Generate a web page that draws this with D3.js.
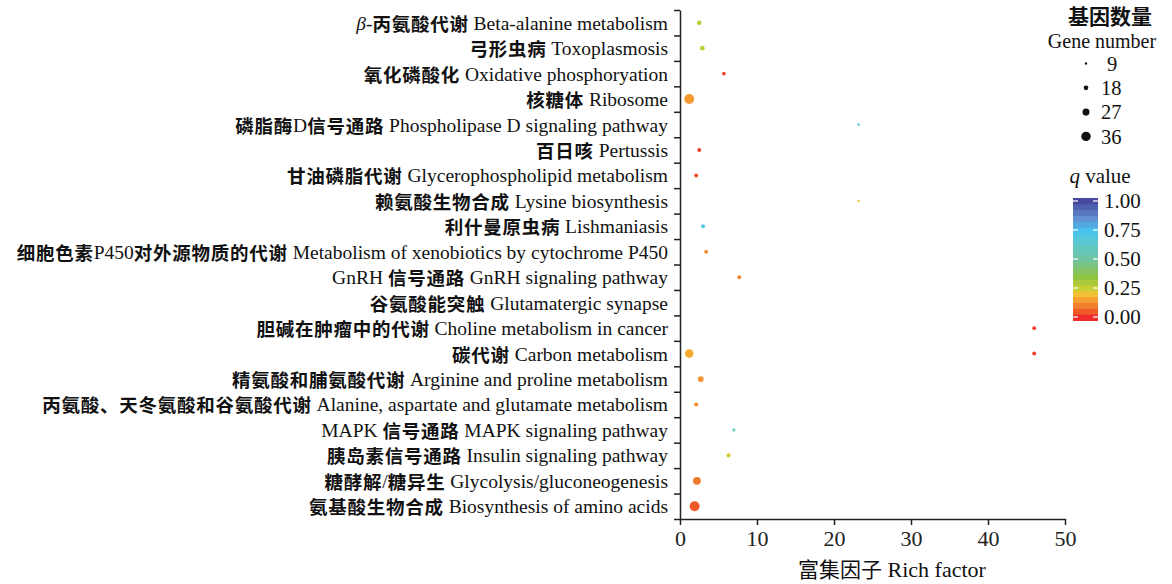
<!DOCTYPE html>
<html>
<head>
<meta charset="utf-8">
<script src="https://cdn.jsdelivr.net/npm/d3@7"></script>
<style>
  body { margin: 0; background: #fff; }
  svg { display: block; }
</style>
</head>
<body>
<div id="plot"></div>
<script>
// pathway rows, top to bottom
const categoriesCn = [
  "β-丙氨酸代谢", "弓形虫病", "氧化磷酸化", "核糖体", "磷脂酶D信号通路",
  "百日咳", "甘油磷脂代谢", "赖氨酸生物合成", "利什曼原虫病", "细胞色素P450对外源物质的代谢",
  "GnRH 信号通路", "谷氨酸能突触", "胆碱在肿瘤中的代谢", "碳代谢", "精氨酸和脯氨酸代谢",
  "丙氨酸、天冬氨酸和谷氨酸代谢", "MAPK 信号通路", "胰岛素信号通路", "糖酵解/糖异生", "氨基酸生物合成"
];
const categoriesEn = [
  "Beta-alanine metabolism", "Toxoplasmosis", "Oxidative phosphoryation", "Ribosome",
  "Phospholipase D signaling pathway", "Pertussis", "Glycerophospholipid metabolism",
  "Lysine biosynthesis", "Lishmaniasis", "Metabolism of xenobiotics by cytochrome P450",
  "GnRH signaling pathway", "Glutamatergic synapse", "Choline metabolism in cancer",
  "Carbon metabolism", "Arginine and proline metabolism",
  "Alanine, aspartate and glutamate metabolism", "MAPK signaling pathway",
  "Insulin signaling pathway", "Glycolysis/gluconeogenesis", "Biosynthesis of amino acids"
];

// points
const pointCategory = [
  "Beta-alanine metabolism", "Toxoplasmosis", "Oxidative phosphoryation", "Ribosome",
  "Phospholipase D signaling pathway", "Pertussis", "Glycerophospholipid metabolism",
  "Lysine biosynthesis", "Lishmaniasis", "Metabolism of xenobiotics by cytochrome P450",
  "GnRH signaling pathway", "Choline metabolism in cancer", "Carbon metabolism",
  "Carbon metabolism", "Arginine and proline metabolism",
  "Alanine, aspartate and glutamate metabolism", "MAPK signaling pathway",
  "Insulin signaling pathway", "Glycolysis/gluconeogenesis", "Biosynthesis of amino acids"
];
const richFactor = [2.5, 2.9, 5.7, 1.2, 23.2, 2.5, 2.1, 23.2, 3.0, 3.4,
                    7.7, 46.0, 46.0, 1.2, 2.7, 2.1, 7.0, 6.3, 2.2, 1.9];
const geneCount  = [18, 18, 14, 38, 10, 15, 15, 9, 15, 15,
                    15, 15, 15, 33, 22, 16, 12, 16, 30, 38];
const qValue     = [0.26, 0.26, 0.02, 0.14, 0.70, 0.02, 0.03, 0.20, 0.70, 0.12,
                    0.11, 0.02, 0.02, 0.17, 0.13, 0.12, 0.58, 0.23, 0.09, 0.05];

const xTicks = [0, 10, 20, 30, 40, 50];
const sizeLegend = [9, 18, 27, 36];
const qTicks = [0, 0.25, 0.5, 0.75, 1];

const serif = "'Liberation Serif', 'DejaVu Serif', serif";
const cjk = "'Noto Sans CJK SC', sans-serif";

window.addEventListener("load", main);

function main(){
  const width = 1172, height = 584;
  const svg = d3.select("#plot").append("svg")
    .attr("width", width).attr("height", height);

  const x = d3.scaleLinear().domain([0, 50]).range([680, 1065]);
  const y = d3.scaleBand().domain(categoriesEn).range([10, 519]);
  const yTickScale = d3.scaleLinear().domain([0, categoriesEn.length]).range([10, 519]);
  const r = d3.scaleLinear().domain([0, 36]).range([0, 4.7]);

  const color = d3.scaleLinear()
    .domain([0, 0.05, 0.1, 0.15, 0.2, 0.25, 0.35, 0.5, 0.6, 0.7, 0.75, 0.85, 1])
    .range(["#ee2c2c", "#f05a28", "#f08030", "#f5a030", "#f2c035", "#c4d034",
            "#90c444", "#72c4a0", "#62c8c0", "#52c8e0", "#48c0f0", "#6090d0", "#4848a0"]);

  // x axis
  const xAxis = svg.append("g")
    .attr("transform", "translate(0,519)")
    .call(d3.axisBottom(x).tickValues(xTicks).tickSize(6).tickPadding(5).tickSizeOuter(0));
  xAxis.attr("font-family", null).attr("font-size", null);
  xAxis.selectAll("text").style("font-family", serif).style("font-size", "22px").attr("fill", "#222");

  // y axis: ticks at row boundaries
  svg.append("g")
    .attr("transform", "translate(680,0)")
    .call(d3.axisLeft(yTickScale).ticks(20).tickSize(6).tickFormat("").tickSizeOuter(0));

  svg.selectAll(".domain, .tick line")
    .attr("stroke", "#222").attr("stroke-width", 1.5);

  // row labels
  const split = s => s.match(/[\u3000-\u9fff\uff00-\uffef]+|[^\u3000-\u9fff\uff00-\uffef]+/g);
  categoriesEn.forEach((en, i) => {
    const t = svg.append("text")
      .attr("x", 668)
      .attr("y", y(en) + y.bandwidth() / 2)
      .attr("dominant-baseline", "central")
      .attr("text-anchor", "end")
      .attr("fill", "#111");
    split(categoriesCn[i]).forEach(part => {
      if (/[\u3000-\u9fff]/.test(part)) {
        t.append("tspan").text(part)
          .style("font-family", cjk).style("font-weight", 700).style("font-size", "18.5px")
          .style("letter-spacing", "0.75px");
      } else if (part.startsWith("β")) {
        t.append("tspan").text("β").style("font-family", serif).style("font-style", "italic").style("font-size", "19.5px");
        t.append("tspan").text(part.slice(1)).style("font-family", serif).style("font-size", "19.5px");
      } else {
        t.append("tspan").text(part).style("font-family", serif).style("font-size", "19.5px");
      }
    });
    t.append("tspan").text(" " + en).style("font-family", serif).style("font-size", "19.5px");
  });

  // points
  const pts = pointCategory.map((c, i) => ({c, rf: richFactor[i], n: geneCount[i], q: qValue[i]}));
  svg.append("g").selectAll("circle")
    .data(pts)
    .join("circle")
      .attr("cx", d => x(d.rf))
      .attr("cy", d => y(d.c) + y.bandwidth() / 2)
      .attr("r", d => r(d.n))
      .attr("fill", d => color(d.q));

  // axis title
  const xt = svg.append("text")
    .attr("x", 892).attr("y", 577)
    .attr("text-anchor", "middle").attr("fill", "#111");
  xt.append("tspan").text("富集因子").style("font-family", cjk).style("font-size", "21px");
  xt.append("tspan").text(" Rich factor").style("font-family", serif).style("font-size", "22px");

  // size legend
  svg.append("text").attr("x", 1110).attr("y", 23.5).attr("text-anchor", "middle")
    .style("font-family", cjk).style("font-weight", 700).style("font-size", "21px")
    .attr("fill", "#111").text("基因数量");
  svg.append("text").attr("x", 1102).attr("y", 47.5).attr("text-anchor", "middle")
    .style("font-family", serif).style("font-size", "20px")
    .attr("fill", "#111").text("Gene number");
  const sl = svg.append("g").selectAll("g")
    .data(sizeLegend)
    .join("g")
      .attr("transform", (d, i) => `translate(1086,${63.5 + i * 24.3})`);
  sl.append("circle").attr("r", d => r(d)).attr("fill", "#111");
  sl.append("text").attr("x", d => d < 10 ? 21 : 15).attr("dy", "0.35em")
    .style("font-family", serif).style("font-size", "20.5px").attr("fill", "#111")
    .text(d => d);

  // q value colour bar
  const qt = svg.append("text").attr("x", 1100).attr("y", 183).attr("text-anchor", "middle")
    .style("font-family", serif).style("font-size", "21px").attr("fill", "#111");
  qt.append("tspan").text("q").style("font-style", "italic");
  qt.append("tspan").text(" value");

  const qy = d3.scaleLinear().domain([0, 1]).range([317, 201]);
  const steps = d3.range(0, 1.0001, 0.05);
  svg.append("g").selectAll("rect")
    .data(steps)
    .join("rect")
      .attr("x", 1073).attr("width", 25)
      .attr("y", d => qy(Math.min(1, d + 0.025)) - 0.5)
      .attr("height", d => qy(Math.max(0, d - 0.025)) - qy(Math.min(1, d + 0.025)) + 1)
      .attr("fill", d => color(d));
  // extend ends a bit like the reference
  svg.append("rect").attr("x", 1073).attr("width", 25).attr("y", 198).attr("height", 4).attr("fill", color(1));
  svg.append("rect").attr("x", 1073).attr("width", 25).attr("y", 316).attr("height", 5).attr("fill", color(0));

  const qa = svg.append("g").selectAll("g")
    .data(qTicks)
    .join("g")
      .attr("transform", d => `translate(0,${qy(d)})`);
  qa.append("line").attr("x1", 1073).attr("x2", 1078).attr("stroke", "#fff").attr("stroke-width", 1.2);
  qa.append("line").attr("x1", 1093).attr("x2", 1098).attr("stroke", "#fff").attr("stroke-width", 1.2);
  qa.append("text").attr("x", 1104).attr("dy", "0.35em")
    .style("font-family", serif).style("font-size", "21px").attr("fill", "#111")
    .text(d => d3.format(".2f")(d));
}
</script>
</body>
</html>
